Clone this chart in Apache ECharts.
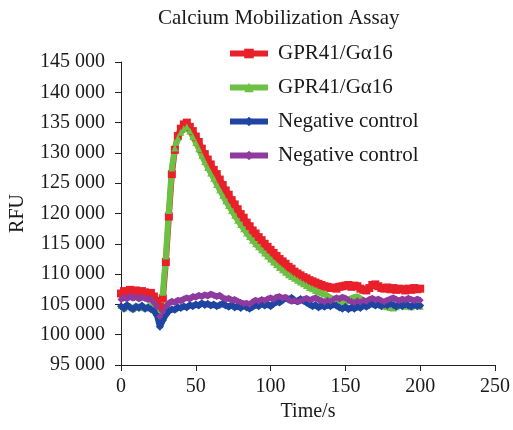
<!DOCTYPE html>
<html>
<head>
<meta charset="utf-8">
<script src="https://cdn.jsdelivr.net/npm/echarts@6/dist/echarts.min.js"></script>
<style>html,body{margin:0;padding:0;background:#fff}#c{width:513px;height:430px}</style>
</head>
<body>
<div id="c"></div>
<script>
var times = [0,2,4,6,8,10,12,14,16,18,20,22,24,26,28,30,32,34,36,38,40,42,44,46,48,50,52,54,56,58,60,62,64,66,68,70,72,74,76,78,80,82,84,86,88,90,92,94,96,98,100,102,104,106,108,110,112,114,116,118,120,122,124,126,128,130,132,134,136,138,140,142,144,146,148,150,152,154,156,158,160,162,164,166,168,170,172,174,176,178,180,182,184,186,188,190,192,194,196,198,200];

// zero-width spaces keep the duplicate legend labels distinct
var seriesNames = ['GPR41/G\u03b116', 'GPR41/G\u03b116\u200b', 'Negative control', 'Negative control\u200b'];

var redValues = [106800,107200,106900,107400,107000,107300,106800,107200,107000,106700,106900,106300,105600,104600,106000,112000,119500,126500,130500,132800,134000,134700,135000,134300,133600,132700,131800,130700,129800,128900,128100,127200,126500,125600,124700,123800,123100,122200,121500,120700,119900,119300,118500,117900,117200,116700,116100,115600,115000,114500,114000,113500,113000,112500,112100,111700,111200,110900,110400,110100,109800,109500,109300,109000,108800,108600,108400,108200,108000,107900,107700,107800,107600,107900,108000,108100,108200,107900,108100,108000,107600,107400,107300,107700,108200,108300,108000,107700,107600,107800,107500,107700,107400,107600,107500,107300,107600,107400,107700,107500,107600];

var greenValues = [104800,104400,104900,104600,104300,104800,104500,104700,104400,104600,104800,104200,104000,103300,107000,113000,120500,127500,130800,132500,133400,134000,134300,133600,132700,131700,130700,129600,128600,127600,126700,125800,124800,123900,123000,122100,121300,120500,119700,118900,118200,117500,116800,116200,115600,115000,114500,114000,113500,113000,112500,112000,111600,111100,110700,110300,109900,109600,109300,109000,108700,108400,108100,107800,107600,107300,107100,106900,106700,106400,106100,105900,105600,105400,105300,105500,105800,106000,106200,106300,106000,105600,105300,105100,105200,105400,105100,104900,104700,104600,104500,104400,104600,104800,104900,104700,104800,104600,104800,104900,104700];

var blueValues = [104700,104300,104900,104500,104200,104600,104400,104800,104300,104500,104200,103900,103200,101300,102400,103300,103900,104200,104100,104500,104400,104700,104500,104900,104700,105000,104800,105200,104900,105100,104800,105000,104700,104900,105100,104800,104600,104900,104500,104700,104400,104800,104500,104300,104600,104900,104700,105100,104800,105000,104700,105100,105400,105300,105700,106000,105800,106100,105700,105500,105900,105600,105300,105000,104700,104900,104500,104800,104600,104900,104700,105000,104800,104500,104300,104600,104200,104500,104300,104600,104400,104800,104600,104900,105100,104800,105000,104700,105000,104800,105100,104900,104600,104900,104700,105000,104800,104600,104900,104700,104800];

var purpleValues = [105800,106200,105900,106400,106000,106300,105900,106200,106000,105800,105900,105300,104600,103000,103800,104600,105200,105500,105300,105700,105600,105900,106100,105900,106300,106200,106500,106300,106600,106400,106700,106500,106300,106500,106100,105900,106000,105700,105800,105500,105300,105100,105200,105000,105400,105700,105500,105800,105600,105900,106100,105800,106200,106300,106000,106200,105800,105500,105700,105400,105600,105800,106000,105700,105900,106100,105800,105600,105400,105700,105500,105800,106100,105900,106200,106000,105700,105500,105300,105600,105400,105700,105500,105800,106000,105700,105900,105600,105400,105700,105900,106100,105800,105600,105900,105700,106000,105800,105600,105900,105700];

var xTicks = [0, 250, 50];
var yTicks = [95000, 145000, 5000];

function pairs(vals) {
  return times.map(function (t, i) { return [t, vals[i]]; });
}

var FONT = 'Liberation Serif';
var TXT = '#1a1a1a';

var chart = echarts.init(document.getElementById('c'), null, {renderer: 'canvas'});

function mk(name, vals, color, symbol, size) {
  return {
    name: name,
    type: 'line',
    data: pairs(vals),
    symbol: symbol,
    symbolSize: size,
    showSymbol: true,
    lineStyle: {color: color, width: 6},
    itemStyle: {color: color},
    animation: false
  };
}

chart.setOption({
  animation: false,
  backgroundColor: '#ffffff',
  title: {
    text: 'Calcium Mobilization Assay',
    left: 153,
    top: 3,
    textStyle: {fontFamily: FONT, fontSize: 21, fontWeight: 'normal', color: TXT}
  },
  legend: {
    orient: 'vertical',
    left: 222,
    top: 38,
    itemWidth: 38,
    itemHeight: 12,
    itemGap: 13,
    lineStyle: {width: 6},
    textStyle: {fontFamily: FONT, fontSize: 21, color: TXT, padding: [0, 0, 0, 5]},
    data: seriesNames.map(function (n) { return {name: n}; })
  },
  grid: {left: 120, right: 16, top: 62, bottom: 65, containLabel: false},
  xAxis: {
    type: 'value',
    min: xTicks[0], max: xTicks[1], interval: xTicks[2],
    name: 'Time/s',
    nameLocation: 'middle',
    nameGap: 37,
    nameTextStyle: {fontFamily: FONT, fontSize: 20, color: TXT},
    axisLine: {lineStyle: {color: '#222', width: 1}},
    axisTick: {show: true, inside: false, length: 6, lineStyle: {color: '#222'}},
    axisLabel: {fontFamily: FONT, fontSize: 20, color: TXT, margin: 12},
    splitLine: {show: false}
  },
  yAxis: {
    type: 'value',
    min: yTicks[0], max: yTicks[1], interval: yTicks[2],
    name: 'RFU',
    nameLocation: 'middle',
    nameGap: 93,
    nameTextStyle: {fontFamily: FONT, fontSize: 20, color: TXT},
    axisLine: {show: true, lineStyle: {color: '#222', width: 1}},
    axisTick: {show: true, inside: false, length: 6, lineStyle: {color: '#222'}},
    axisLabel: {
      fontFamily: FONT, fontSize: 20, color: TXT, margin: 16,
      formatter: function (v) { return String(v).replace(/\B(?=(\d{3})+(?!\d))/g, ' '); }
    },
    splitLine: {show: false}
  },
  series: [
    mk(seriesNames[0], redValues, '#e8202a', 'rect', 8),
    mk(seriesNames[1], greenValues, '#6cc043', 'triangle', 7),
    mk(seriesNames[2], blueValues, '#1f45a3', 'diamond', 8),
    mk(seriesNames[3], purpleValues, '#8e3a9e', 'diamond', 7)
  ]
});
</script>
</body>
</html>
